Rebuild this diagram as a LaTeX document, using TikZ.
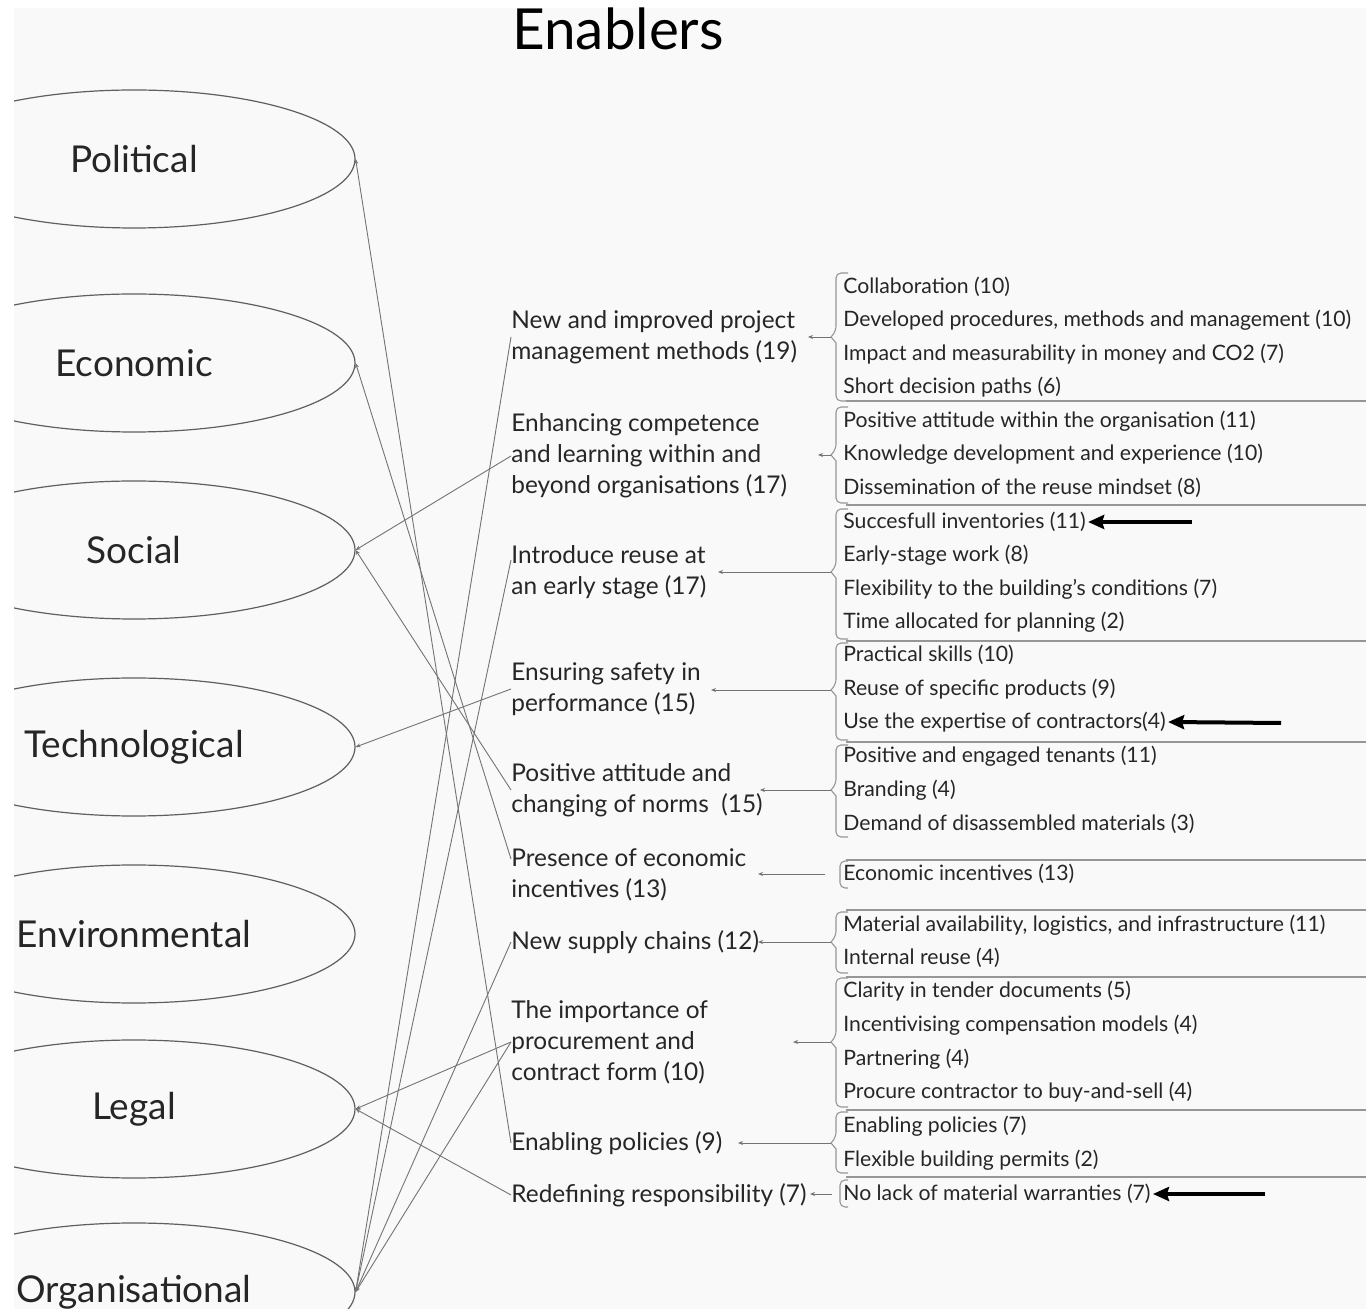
\documentclass[tikz,border=0pt]{standalone}
\usepackage{fontspec}
\setmainfont{Lato}
\usetikzlibrary{shapes.geometric,arrows.meta,calc}
\definecolor{bgc}{RGB}{249,249,249}
\definecolor{txt}{RGB}{38,38,38}
\definecolor{lnk}{RGB}{115,115,115}
\definecolor{brc}{RGB}{150,150,150}
\definecolor{ellc}{RGB}{95,95,95}
\tikzset{
  cat/.style={ellipse, draw=ellc, line width=0.6pt, minimum width=221pt, minimum height=69pt, inner sep=0pt, font=\fontsize{18.5}{22}\selectfont, text=txt},
  enab/.style={anchor=west, align=left, inner sep=0pt, font=\fontsize{12.2}{15.5}\selectfont, text=txt},
  itm/.style={anchor=west, inner sep=0pt, font=\fontsize{10.6}{12}\selectfont, text=txt},
  lnk/.style={draw=lnk, line width=0.45pt},
  tiptoell/.style={lnk, -{Stealth[length=2.5pt,width=2pt]}},
  tiptoen/.style={lnk, -{Stealth[length=2.5pt,width=2pt]}},
  brk/.style={draw=brc, line width=0.55pt},
  bigarrow/.style={draw=black, line width=2pt, -{Stealth[length=8pt,width=7pt,inset=1pt]}}
}
\newcommand{\grpbr}[3]{\draw[brk] (848,#1) [rounded corners=2.5pt]-- (836,#1) -- (836,#2-6) [sharp corners]-- (831,#2) -- (836,#2+6) [rounded corners=2.5pt]-- (836,#3) -- (848,#3);}
\newcommand{\grpbox}[2]{\draw[brk] (848,#1) [rounded corners=2.5pt]-- (840,#1) -- (840,#2) -- (848,#2);}
\begin{document}
\begin{tikzpicture}[x=0.5pt,y=-0.5pt]
\useasboundingbox (0,0) rectangle (1366,1309);
\fill[white] (0,0) rectangle (1366,1309);
\fill[bgc] (14,8) rectangle (1366,1309);
\begin{scope}
\clip (14,8) rectangle (1366,1309);

% title
\node[anchor=west, inner sep=0pt, font=\fontsize{28.3}{31}\selectfont, text=black] (title) at (512,29) {Enablers};

% categories
\node[cat] (pol) at (134,159) {Political};
\node[cat] (eco) at (134,363) {Economic};
\node[cat] (soc) at (134,550) {Social};
\node[cat] (tec) at (134,747) {Technological};
\node[cat] (env) at (134,934) {Environmental};
\node[cat] (leg) at (134,1109) {Legal};
\node[cat] (org) at (134,1292) {Organisational};

% enablers
\node[enab] (e1) at (511,337) {New and improved project\\management methods (19)};
\node[enab] (e2) at (511,456) {Enhancing competence\\and learning within and\\beyond organisations (17)};
\node[enab] (e3) at (511,572) {Introduce reuse at\\an early stage (17)};
\node[enab] (e4) at (511,689) {Ensuring safety in\\performance (15)};
\node[enab] (e5) at (511,790) {Positive attitude and\\changing of norms~ (15)};
\node[enab] (e6) at (511,875) {Presence of economic\\incentives (13)};
\node[enab] (e7) at (511,942) {New supply chains (12)};
\node[enab] (e8) at (511,1042) {The importance of\\procurement and\\contract form (10)};
\node[enab] (e9) at (511,1143) {Enabling policies (9)};
\node[enab] (e10) at (511,1195) {Redefining responsibility (7)};

% links enablers -> categories
\draw[tiptoell] (e9.west) -- (pol.east);
\draw[tiptoell] ([yshift=8pt]e6.west) -- (eco.east);
\draw[tiptoell] (e2.west) -- (soc.east);
\draw[tiptoell] (e5.west) -- (soc.east);
\draw[tiptoell] (e4.west) -- (tec.east);
\draw[tiptoell] (e8.west) -- (leg.east);
\draw[tiptoell] (e10.west) -- (leg.east);
\draw[tiptoell] (e1.west) -- (org.east);
\draw[tiptoell] ([yshift=6pt]e3.west) -- (org.east);
\draw[tiptoell] (e7.west) -- (org.east);
\draw[tiptoell] (e8.west) -- (org.east);

% items
\node[itm] (i1) at (843,287) {Collaboration (10)};
\node[itm] (i2) at (843,320) {Developed procedures, methods and management (10)};
\node[itm] (i3) at (843,354) {Impact and measurability in money and CO2 (7)};
\node[itm] (i4) at (843,387) {Short decision paths (6)};
\node[itm] (i5) at (843,421) {Positive attitude within the organisation (11)};
\node[itm] (i6) at (843,454) {Knowledge development and experience (10)};
\node[itm] (i7) at (843,488) {Dissemination of the reuse mindset (8)};
\node[itm] (i8) at (843,522) {Succesfull inventories (11)};
\node[itm] (i9) at (843,555) {Early-stage work (8)};
\node[itm] (i10) at (843,589) {Flexibility to the building's conditions (7)};
\node[itm] (i11) at (843,622) {Time allocated for planning (2)};
\node[itm] (i12) at (843,655) {Practical skills (10)};
\node[itm] (i13) at (843,689) {Reuse of specific products (9)};
\node[itm] (i14) at (843,722) {Use the expertise of contractors(4)};
\node[itm] (i15) at (843,756) {Positive and engaged tenants (11)};
\node[itm] (i16) at (843,790) {Branding (4)};
\node[itm] (i17) at (843,824) {Demand of disassembled materials (3)};
\node[itm] (i18) at (843,874) {Economic incentives (13)};
\node[itm] (i19) at (843,925) {Material availability, logistics, and infrastructure (11)};
\node[itm] (i20) at (843,958) {Internal reuse (4)};
\node[itm] (i21) at (843,991) {Clarity in tender documents (5)};
\node[itm] (i22) at (843,1025) {Incentivising compensation models (4)};
\node[itm] (i23) at (843,1059) {Partnering (4)};
\node[itm] (i24) at (843,1092) {Procure contractor to buy-and-sell (4)};
\node[itm] (i25) at (843,1126) {Enabling policies (7)};
\node[itm] (i26) at (843,1160) {Flexible building permits (2)};
\node[itm] (i27) at (843,1194) {No lack of material warranties (7)};

% group brackets
\grpbr{273}{337}{401}
\grpbr{407}{455}{503}
\grpbr{509}{572}{639}
\grpbr{643}{690}{740}
\grpbr{745}{790}{837}
\grpbox{861}{888}
\grpbr{912}{942}{973}
\grpbr{978}{1042}{1107}
\grpbr{1112}{1143}{1173}
\grpbox{1180}{1207}

% long separator lines
\foreach \yy in {401,505,641,742,860,910,977,1110,1177}
  \draw[brk] (846,\yy) -- (1366,\yy);

% group -> enabler connectors
\coordinate (n1) at (831,337);  \coordinate (t1) at (808,337);
\coordinate (n2) at (831,455);  \coordinate (t2) at (818,455);
\coordinate (n3) at (831,572);  \coordinate (t3) at (718,572);
\coordinate (n4) at (831,690);  \coordinate (t4) at (711,690);
\coordinate (n5) at (831,790);  \coordinate (t5) at (760,790);
\coordinate (n6) at (825,874);  \coordinate (t6) at (758,874);
\coordinate (n7) at (831,942);  \coordinate (t7) at (758,942);
\coordinate (n8) at (831,1042); \coordinate (t8) at (793,1042);
\coordinate (n9) at (831,1143); \coordinate (t9) at (738,1143);
\coordinate (n10) at (832,1194); \coordinate (t10) at (810,1194);
\foreach \k in {1,...,10}
  \draw[tiptoen] (n\k) -- (t\k);

% highlight arrows
\coordinate (a1) at (1192,522);
\coordinate (a2) at (1281,723);
\coordinate (a3) at (1265,1194);
\draw[bigarrow] (a1) -- ([xshift=1pt]i8.east);
\draw[bigarrow] (a2) -- ([xshift=1pt]i14.east);
\draw[bigarrow] (a3) -- ([xshift=1pt]i27.east);
\end{scope}
\end{tikzpicture}
\end{document}
